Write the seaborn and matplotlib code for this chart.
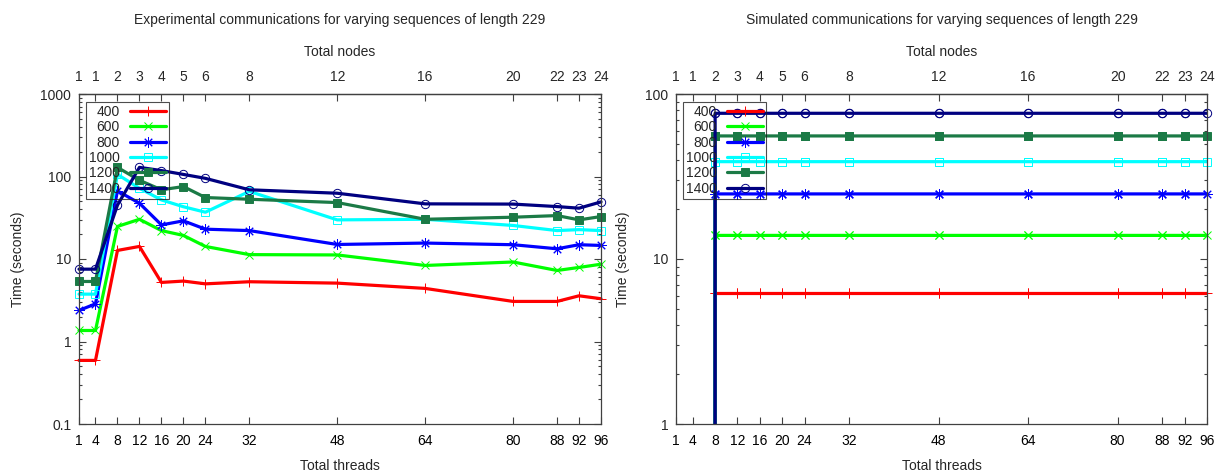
import numpy as np
import pandas as pd
import matplotlib
matplotlib.use("Agg")
import matplotlib.pyplot as plt
import seaborn as sns
from matplotlib.ticker import FixedLocator, NullFormatter, LogLocator

# ---------------- data ----------------
threads = [1, 4, 8, 12, 16, 20, 24, 32, 48, 64, 80, 88, 92, 96]
nodes = ["1", "1", "2", "3", "4", "5", "6", "8", "12", "16", "20", "22", "23", "24"]
sizes = ["400", "600", "800", "1000", "1200", "1400"]

exp_400 = [0.59, 0.59, 12.7, 14.2, 5.2, 5.4, 5.0, 5.3, 5.1, 4.4, 3.06, 3.06, 3.58, 3.3]
exp_600 = [1.36, 1.36, 24.8, 30.3, 22.1, 19.3, 14.2, 11.3, 11.2, 8.35, 9.2, 7.26, 7.9, 8.65]
exp_800 = [2.38, 2.86, 66.9, 47.4, 25.9, 29.0, 23.0, 22.1, 15.0, 15.6, 14.9, 13.3, 14.9, 14.6]
exp_1000 = [3.75, 3.75, 106, 72, 52, 43, 36.9, 66, 29.8, 30.3, 25.5, 22.1, 22.7, 22.1]
exp_1200 = [5.34, 5.34, 129, 90, 69, 75.5, 55.6, 53, 48.3, 30.3, 32.1, 33.6, 29.8, 32.7]
exp_1400 = [7.53, 7.53, 45, 129, 118, 106, 95, 69, 62.7, 46.6, 46.3, 43.2, 41.3, 49.2]

sim_400 = [0, 0, 6.18, 6.18, 6.18, 6.18, 6.18, 6.18, 6.18, 6.18, 6.18, 6.18, 6.18, 6.18]
sim_600 = [0, 0, 13.9, 13.9, 13.9, 13.9, 13.9, 13.9, 13.9, 13.9, 13.9, 13.9, 13.9, 13.9]
sim_800 = [0, 0, 24.8, 24.8, 24.8, 24.8, 24.8, 24.8, 24.8, 24.8, 24.8, 24.8, 24.8, 24.8]
sim_1000 = [0, 0, 38.9, 38.9, 38.9, 38.9, 38.9, 38.9, 38.9, 38.9, 38.9, 38.9, 38.9, 38.9]
sim_1200 = [0, 0, 55.7, 55.7, 55.7, 55.7, 55.7, 55.7, 55.7, 55.7, 55.7, 55.7, 55.7, 55.7]
sim_1400 = [0, 0, 76.4, 76.4, 76.4, 76.4, 76.4, 76.4, 76.4, 76.4, 76.4, 76.4, 76.4, 76.4]

exp_series = [exp_400, exp_600, exp_800, exp_1000, exp_1200, exp_1400]
sim_series = [sim_400, sim_600, sim_800, sim_1000, sim_1200, sim_1400]

left_yticks = [0.1, 1, 10, 100, 1000]
left_ylabels = ["0.1", "1", "10", "100", "1000"]
right_yticks = [1, 10, 100]
right_ylabels = ["1", "10", "100"]

titles = ["Experimental communications for varying sequences of length 229",
          "Simulated communications for varying sequences of length 229"]

# ---------------- style ----------------
colors = ["#ff0000", "#00ff00", "#0000ff", "#00ffff", "#1b7a46", "#000080"]
markers = ["+", "x", (8, 2, 0), "s", "s", "o"]
filled = [False, False, False, False, True, False]
msizes = [7.5, 6, 7.5, 6, 5.5, 6]

sns.set_theme(style="ticks")
plt.rcParams["font.family"] = ["Liberation Sans", "DejaVu Sans"]
for k in ["font.size", "axes.labelsize", "xtick.labelsize", "ytick.labelsize",
          "axes.titlesize", "legend.fontsize"]:
    plt.rcParams[k] = 10
edge = "#404040"

W, H = 1219, 471
fig = plt.figure(figsize=(W / 100, H / 100), dpi=100)
axL = fig.add_axes([79 / W, (H - 424) / H, (601 - 79) / W, 330 / H])
axR = fig.add_axes([676 / W, (H - 424) / H, (1207 - 676) / W, 330 / H])


def draw(ax, series, yticks, ylabels, ylim, title, clip):
    for lab, vals, c, m, f, ms in zip(sizes, series, colors, markers, filled, msizes):
        df = pd.DataFrame({"threads": threads, "time": vals})
        sns.lineplot(data=df, x="threads", y="time", ax=ax, color=c, lw=2.3,
                     marker=m, ms=ms, mec=c, mfc=(c if f else "none"), mew=0.7,
                     label=lab, errorbar=None, clip_on=clip)
        if clip:
            pos = df[df["time"] > 0]
            ax.plot(pos["threads"], pos["time"], ls="none", marker=m, ms=ms,
                    mec=c, mfc=(c if f else "none"), mew=0.7, clip_on=False,
                    label="_nolegend_")
    ax.set_yscale("log")
    ax.set_ylim(*ylim)
    ax.set_xlim(1, 96)
    ax.yaxis.set_major_locator(FixedLocator(yticks))
    ax.set_yticklabels(ylabels)
    ax.yaxis.set_minor_locator(LogLocator(base=10, subs=np.arange(2, 10)))
    ax.yaxis.set_minor_formatter(NullFormatter())
    ax.set_xticks(threads)
    ax.set_xticklabels([str(t) for t in threads])
    ax.tick_params(axis="x", which="major", direction="in", length=5, width=0.8,
                   color=edge, pad=7, top=False, bottom=True, labelcolor="black")
    ax.tick_params(axis="y", which="major", direction="in", length=5, width=0.8,
                   color=edge, pad=5.5, left=True, right=True)
    ax.tick_params(axis="y", which="minor", direction="in", length=2.5, width=0.8,
                   color=edge, left=True, right=True)
    ax.tick_params(axis="x", which="minor", bottom=False, top=False)
    for s in ax.spines.values():
        s.set_color(edge)
        s.set_linewidth(0.9)
    ax.set_xlabel("Total threads", labelpad=8)
    ax.set_ylabel("Time (seconds)", labelpad=11)
    sec = ax.secondary_xaxis("top")
    sec.set_xticks(threads)
    sec.set_xticklabels(nodes)
    sec.tick_params(axis="x", which="major", direction="in", length=5, width=0.8,
                    color=edge, pad=7)
    sec.tick_params(axis="x", which="minor", top=False)
    sec.spines["top"].set_color(edge)
    sec.spines["top"].set_linewidth(0.9)
    sec.set_xlabel("Total nodes", labelpad=10)
    ax.set_title(title, y=1 + 70 / 330, pad=0)

    leg = ax.legend(loc="upper left", bbox_to_anchor=(7 / 522, 1 - 8 / 330),
                    borderaxespad=0, markerfirst=False, frameon=True,
                    fancybox=False, handlelength=2.65, handletextpad=0.7,
                    borderpad=0.2, labelspacing=0.1, numpoints=1)
    leg.get_frame().set_facecolor("none")
    leg.get_frame().set_edgecolor("#202020")
    leg.get_frame().set_linewidth(0.8)
    for col in leg._legend_handle_box.get_children():
        col.align = "right"


draw(axL, exp_series, left_yticks, left_ylabels, (0.1, 1000), titles[0], False)
draw(axR, sim_series, right_yticks, right_ylabels, (1, 100), titles[1], True)

fig.savefig("out.png", dpi=100)
